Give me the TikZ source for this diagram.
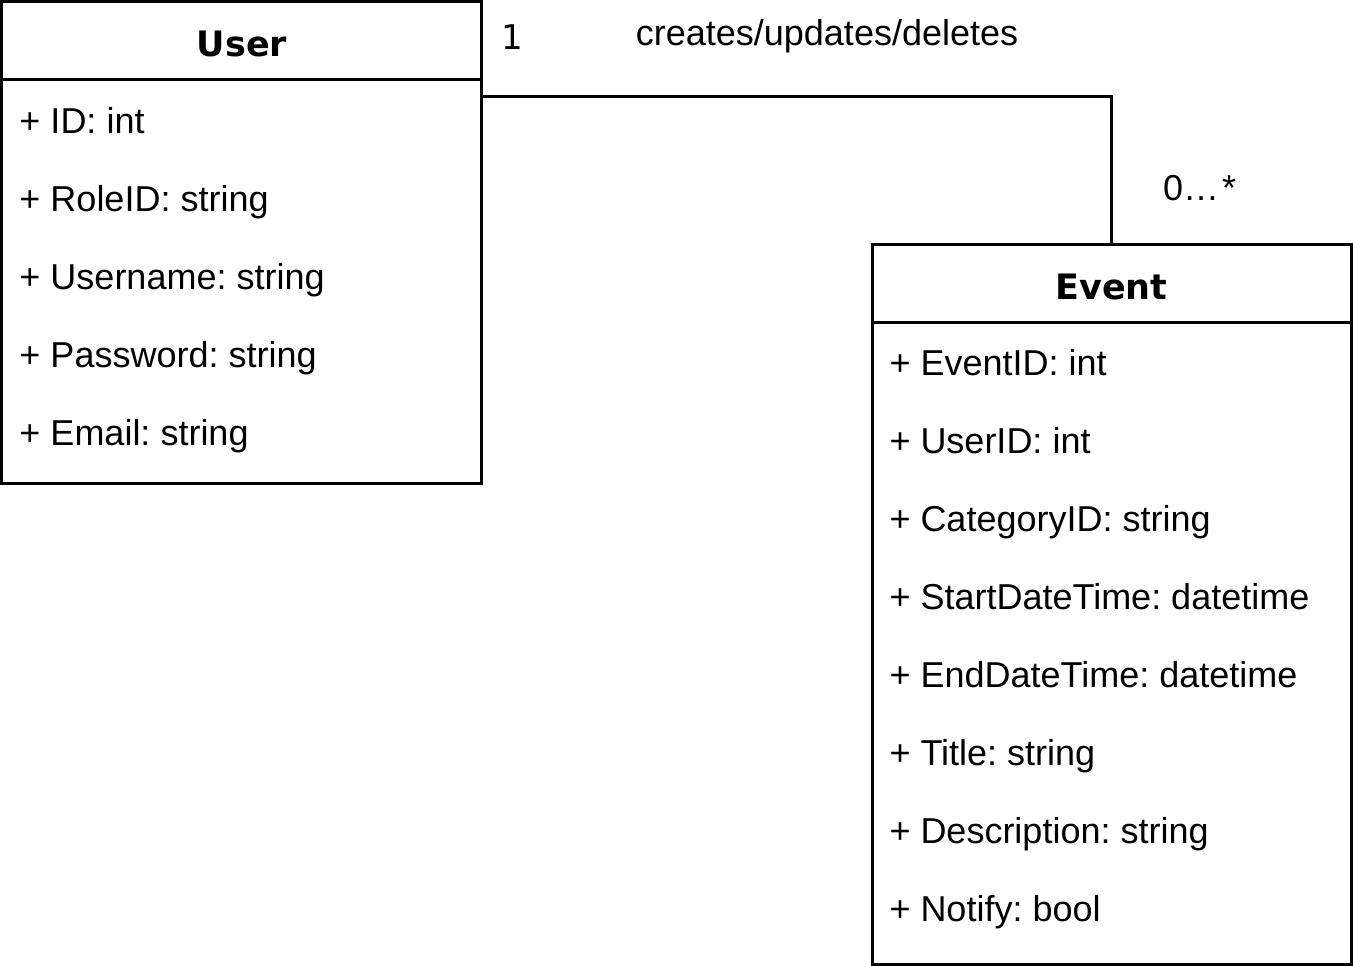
\documentclass[tikz,border=0pt]{standalone}
\usepackage{fontspec}
\setmainfont{Liberation Sans}
\newfontfamily\dejavu{DejaVu Sans}
\frenchspacing
\begin{document}
\frenchspacing
\begin{tikzpicture}[x=1pt,y=-1pt,line width=3pt]
\tikzset{
  classbox/.style={draw=black,fill=white,anchor=north west,inner sep=0pt,outer sep=0pt},
  attr/.style={anchor=base west,inner sep=0pt,font=\fontsize{36}{40}\selectfont},
  ctitle/.style={anchor=base,inner sep=0pt,font=\dejavu\bfseries\fontsize{35}{40}\selectfont},
  lbl/.style={anchor=base,inner sep=0pt,font=\fontsize{36}{40}\selectfont},
  lbldv/.style={anchor=base,inner sep=0pt,font=\dejavu\fontsize{34}{40}\selectfont}
}
\useasboundingbox (0,0) rectangle (1353,966);
% User class
\node[classbox,minimum width=480pt,minimum height=482pt] (user) at (1.5,1.5) {};
\draw (user.west |- 0,80) -- (user.east |- 0,80);
\node[ctitle] (ut) at (242,57) {User};
\node[attr] (u1) at (18,133) {+ ID: int};
\node[attr] (u2) at (18,211) {+ RoleID: string};
\node[attr] (u3) at (18,289) {+ Username: string};
\node[attr] (u4) at (18,367) {+ Password: string};
\node[attr] (u5) at (18,445) {+ Email: string};
% Event class
\node[classbox,minimum width=479pt,minimum height=720pt] (event) at (872,244) {};
\draw (event.west |- 0,322) -- (event.east |- 0,322);
\node[ctitle] (et) at (1111.5,299) {Event};
\node[attr] (e1) at (888,375) {+ EventID: int};
\node[attr] (e2) at (888,453) {+ UserID: int};
\node[attr] (e3) at (888,531) {+ CategoryID: string};
\node[attr] (e4) at (888,609) {+ StartDateTime: datetime};
\node[attr] (e5) at (888,687) {+ EndDateTime: datetime};
\node[attr] (e6) at (888,765) {+ Title: string};
\node[attr] (e7) at (888,843) {+ Description: string};
\node[attr] (e8) at (888,921) {+ Notify: bool};
% association
\draw (user.north east) ++(0,95.5) -| (event.north);
\node[lbldv] (m1) at (512,50) {1};
\node[lbl] (asc) at (827,46) {creates/updates/deletes};
\node[attr] (m2) at (1161.5,200) {0…\kern3pt*};
\end{tikzpicture}
\end{document}
